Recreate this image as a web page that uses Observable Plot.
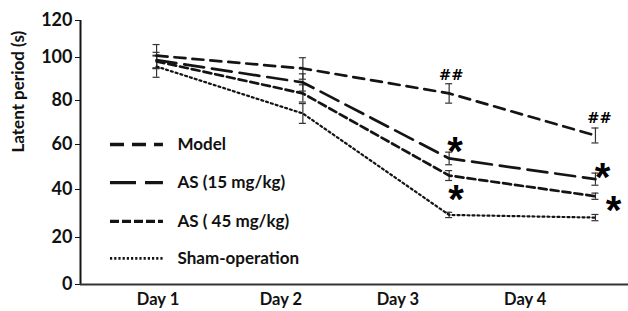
<!DOCTYPE html>
<html>
<head>
<meta charset="utf-8">
<script src="https://cdn.jsdelivr.net/npm/d3@7"></script>
<script src="https://cdn.jsdelivr.net/npm/@observablehq/plot@0.6"></script>
<style>
  html, body { margin: 0; padding: 0; background: #fff; }
  #chart svg { display: block; }
</style>
</head>
<body>
<div id="chart"></div>
<script>
// ---- data ----
const days = [1, 2, 3, 4];
const dayLabels = ["Day 1", "Day 2", "Day 3", "Day 4"];
const seriesNames = ["Model", "AS (15 mg/kg)", "AS ( 45 mg/kg)", "Sham-operation"];

const modelMean = [101.0, 94.9, 83.3, 64.1];
const modelErr  = [6.0, 5.0, 4.5, 3.4];
const as15Mean  = [98.8, 88.4, 53.8, 44.6];
const as15Err   = [4.0, 4.0, 2.8, 2.7];
const as45Mean  = [98.2, 83.3, 46.2, 37.2];
const as45Err   = [3.0, 4.0, 2.2, 1.3];
const shamMean  = [95.8, 74.1, 29.4, 28.3];
const shamErr   = [5.0, 4.5, 1.1, 1.3];

const yTicks = [0, 20, 40, 60, 80, 100, 120];

// significance marks: series, day, label
const marksSeries = ["Model", "Model", "AS (15 mg/kg)", "AS ( 45 mg/kg)", "AS (15 mg/kg)", "AS ( 45 mg/kg)"];
const marksDay    = [3, 4, 3, 3, 4, 4];
const marksLabel  = ["##", "##", "*", "*", "*", "*"];

// ---- build table ----
const means = [modelMean, as15Mean, as45Mean, shamMean];
const errs = [modelErr, as15Err, as45Err, shamErr];
const rows = [];
seriesNames.forEach((s, k) => days.forEach((d, i) => rows.push({series: s, day: d, value: means[k][i], err: errs[k][i]})));

// ---- styling (not data) ----
const dash = {
  "Model": "11,7",
  "AS (15 mg/kg)": "20,8",
  "AS ( 45 mg/kg)": "8,4",
  "Sham-operation": "2,3"
};
const legendDash = {
  "Model": "14,8",
  "AS (15 mg/kg)": "26,9",
  "AS ( 45 mg/kg)": "9,3",
  "Sham-operation": "2.2,2"
};
const width = {"Model": 2.7, "AS (15 mg/kg)": 2.7, "AS ( 45 mg/kg)": 2.7, "Sham-operation": 2.2};
const ink = "#141414";
const xDomain = [0.48, 4.226];
const dayTickAt = [1.01, 1.85, 2.65, 3.52];
const legendY = [60, 43.1, 26.7, 11.1];
const legendX = [0.685, 1.047, 1.143];
const capHalf = 0.024;
// annotation offsets (px)
const annOffset = [
  {dx: 2, dy: -18}, {dx: 4, dy: -17},
  {dx: 6, dy: -6}, {dx: 7, dy: 25},
  {dx: 7, dy: -1}, {dx: 18, dy: 15}
];

const annRows = marksLabel.map((lab, i) => {
  const r = rows.find(r => r.series === marksSeries[i] && r.day === marksDay[i]);
  return {day: r.day, value: r.value, label: lab, dx: annOffset[i].dx, dy: annOffset[i].dy};
});

const marks = [];
// error bars
marks.push(Plot.ruleX(rows, {x: "day", y1: d => d.value - d.err, y2: d => d.value + d.err, stroke: "#333", strokeWidth: 1.2}));
marks.push(Plot.ruleY(rows, {y: d => d.value + d.err, x1: d => d.day - capHalf, x2: d => d.day + capHalf, stroke: "#333", strokeWidth: 1.2}));
marks.push(Plot.ruleY(rows, {y: d => d.value - d.err, x1: d => d.day - capHalf, x2: d => d.day + capHalf, stroke: "#333", strokeWidth: 1.2}));
// series lines
seriesNames.forEach(s => {
  marks.push(Plot.line(rows.filter(r => r.series === s), {x: "day", y: "value", stroke: ink, strokeWidth: width[s], strokeDasharray: dash[s]}));
});
// legend
seriesNames.forEach((s, i) => {
  marks.push(Plot.ruleY([legendY[i]], {x1: legendX[0], x2: legendX[1], stroke: ink, strokeWidth: width[s] + 0.6, strokeDasharray: legendDash[s]}));
  marks.push(Plot.text([s], {x: legendX[2], y: legendY[i], text: d => d, textAnchor: "start", fontSize: 17, fontWeight: "bold", fill: "#111"}));
});
// significance annotations
annRows.forEach(a => {
  const star = a.label === "*";
  marks.push(Plot.text([a], {x: "day", y: "value", text: "label", dx: a.dx, dy: a.dy,
    fontSize: star ? 40 : 14.5, fontWeight: "bold",
    fontFamily: star ? "Liberation Sans, sans-serif" : "DejaVu Serif, serif", fill: "#000"}));
});
// axes
marks.push(Plot.axisY({ticks: yTicks, tickSize: 5, tickPadding: 3, label: null, fontSize: 18, fontWeight: "bold", stroke: ink}));
marks.push(Plot.axisX({ticks: dayTickAt, tickFormat: d => dayLabels[dayTickAt.indexOf(d)], tickSize: 0, tickPadding: 9, label: null, fontSize: 16.5, fontWeight: "bold"}));
marks.push(Plot.ruleX([xDomain[0]], {y1: 0, y2: 120, stroke: ink, strokeWidth: 2}));
marks.push(Plot.ruleY([0], {stroke: "#333", strokeWidth: 2}));
marks.push(Plot.text(["Latent period (s)"], {frameAnchor: "left", dx: -62, rotate: -90, fontSize: 17, fontWeight: "bold", fill: "#111"}));

const chart = Plot.plot({
  width: 628,
  height: 311,
  marginLeft: 80,
  marginRight: 0,
  marginTop: 20,
  marginBottom: 27,
  style: {fontFamily: "Lato, sans-serif", color: "#111", background: "#fff"},
  x: {type: "linear", domain: xDomain},
  y: {type: "linear", domain: yTicks, range: [284, 237, 189, 144, 100, 57, 20]},
  marks
});
document.getElementById("chart").appendChild(chart);
</script>
</body>
</html>
